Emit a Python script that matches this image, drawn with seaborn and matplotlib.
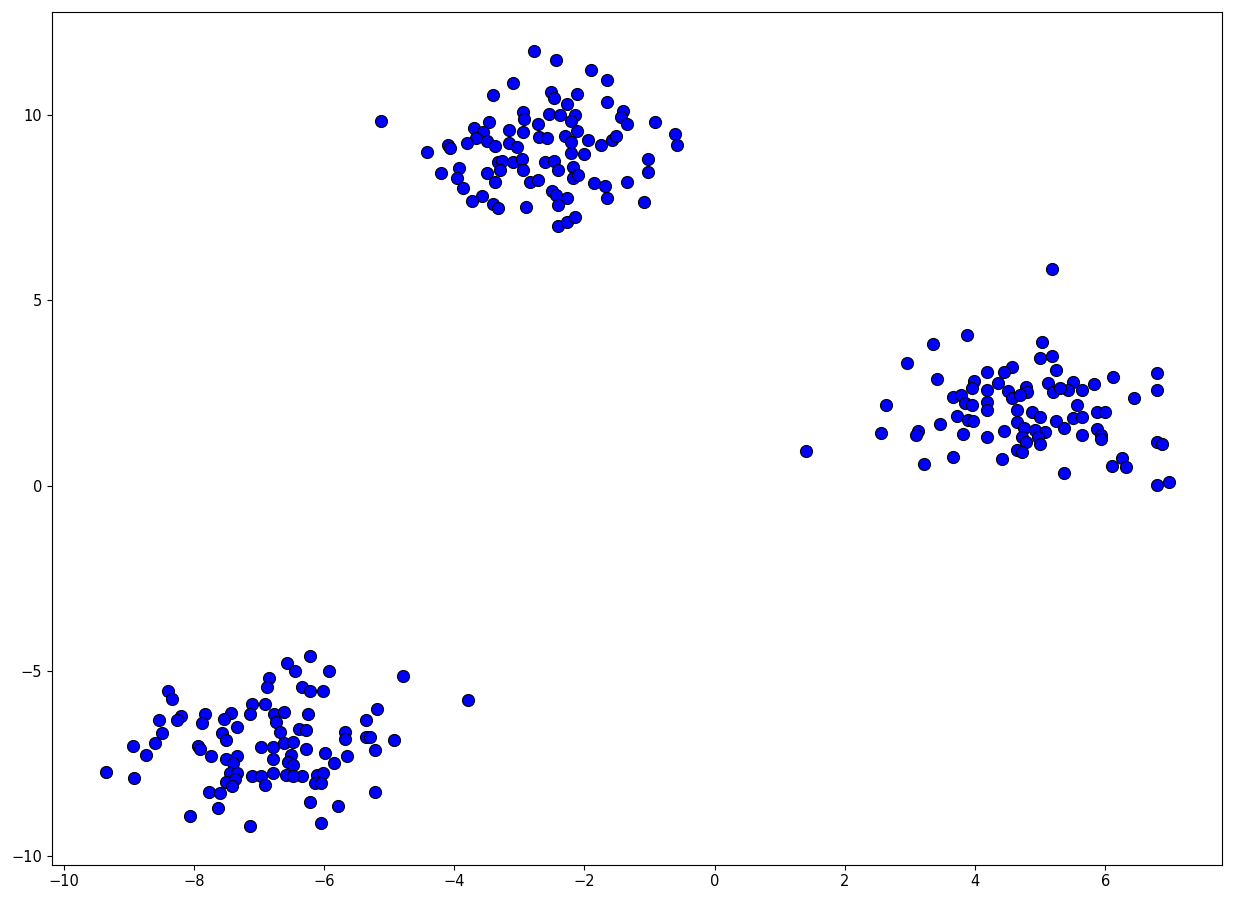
import matplotlib
matplotlib.use("Agg")
import matplotlib.pyplot as plt
import seaborn as sns
import pandas as pd

# upper blob
top_x = [-2.78, -3.09, -3.41, -5.12, -2.95, -2.93, -3.69, -3.47, -3.16, -2.95,
         -3.56, -3.66, -3.50, -3.81, -4.10, -4.06, -3.38, -3.16, -3.03, -4.41,
         -3.33, -3.26, -3.09, -2.96, -3.92, -4.21, -3.49, -3.29, -2.95, -3.96,
         -3.38, -2.84, -3.86, -3.58, -3.73, -3.41, -3.32, -2.89,
         -2.44, -1.90, -1.66, -2.52, -2.46, -2.12, -2.26, -1.66, -1.41, -1.44,
         -1.34, -2.55, -2.38, -2.15, -2.20, -2.72, -0.91, -0.61, -0.58, -2.12,
         -2.70, -2.57, -2.30, -2.20, -1.95, -1.74, -1.58, -1.52, -2.21, -2.01,
         -2.60, -2.47, -2.40, -2.17, -2.18, -2.10, -1.03, -1.03, -2.72, -1.86,
         -1.69, -1.34, -2.50, -2.44, -2.27, -2.41, -1.66, -1.08, -2.40, -2.26,
         -2.14]
top_y = [11.73, 10.86, 10.54, 9.84, 10.08, 9.89, 9.65, 9.81, 9.60, 9.54,
         9.54, 9.38, 9.30, 9.25, 9.19, 9.11, 9.16, 9.25, 9.14, 9.00,
         8.73, 8.76, 8.73, 8.81, 8.57, 8.44, 8.44, 8.52, 8.52, 8.30,
         8.19, 8.19, 8.03, 7.82, 7.68, 7.60, 7.49, 7.52,
         11.48, 11.21, 10.94, 10.62, 10.46, 10.57, 10.30, 10.35, 10.11, 9.95,
         9.76, 10.03, 10.00, 10.00, 9.84, 9.76, 9.81, 9.49, 9.19, 9.57,
         9.41, 9.38, 9.43, 9.27, 9.33, 9.19, 9.33, 9.43, 8.98, 8.95,
         8.73, 8.76, 8.52, 8.60, 8.30, 8.38, 8.81, 8.46, 8.25, 8.17,
         8.09, 8.19, 7.95, 7.84, 7.76, 7.57, 7.76, 7.65, 7.01, 7.12,
         7.25]

# right blob
right_x = [3.87, 3.35, 2.95, 3.41, 4.18, 3.99, 3.95, 3.66, 3.79, 3.84,
           3.95, 4.18, 4.19, 2.63, 3.72, 3.89, 3.96, 4.18, 3.46, 2.55,
           3.13, 3.09, 3.82, 4.18, 1.41, 3.66, 3.21,
           5.18, 5.02, 4.99, 5.18, 5.24, 4.56, 4.45, 4.35, 4.50, 4.56,
           4.78, 4.79, 4.69, 5.12, 5.19, 5.50, 5.42, 5.64, 5.30, 5.82,
           6.11, 6.79, 6.80, 6.44, 5.56, 4.65, 4.88, 4.99, 5.24, 5.51,
           5.64, 5.87, 5.99, 4.64, 4.75, 5.36, 4.45, 4.92, 5.08, 4.96,
           5.64, 5.87, 5.94, 5.93, 4.72, 4.78, 4.99, 4.64, 4.72, 4.42,
           5.36, 6.10, 6.25, 6.31, 6.80, 6.87, 6.80, 6.97]
right_y = [4.07, 3.83, 3.32, 2.88, 3.07, 2.83, 2.64, 2.40, 2.45, 2.24,
           2.18, 2.26, 2.59, 2.18, 1.89, 1.78, 1.75, 2.05, 1.67, 1.43,
           1.48, 1.37, 1.40, 1.32, 0.94, 0.78, 0.59,
           5.85, 3.88, 3.45, 3.50, 3.13, 3.21, 3.07, 2.78, 2.56, 2.37,
           2.67, 2.53, 2.45, 2.78, 2.53, 2.80, 2.59, 2.59, 2.64, 2.75,
           2.94, 3.05, 2.59, 2.37, 2.18, 2.05, 1.99, 1.86, 1.75, 1.83,
           1.86, 1.99, 1.99, 1.73, 1.56, 1.56, 1.48, 1.51, 1.46, 1.32,
           1.37, 1.54, 1.37, 1.27, 1.32, 1.19, 1.13, 0.97, 0.92, 0.73,
           0.35, 0.54, 0.75, 0.51, 1.19, 1.13, 0.03, 0.11]

# lower blob
bottom_x = [-6.57, -6.84, -6.87, -8.39, -8.33, -7.11, -6.91, -6.76, -6.62, -7.14,
            -6.73, -7.43, -7.54, -7.83, -7.88, -8.19, -8.26, -8.53, -7.33, -7.56,
            -7.51, -6.68, -8.48, -8.59, -8.94, -8.74, -7.94, -7.91, -7.73, -6.97,
            -6.79, -6.61, -6.51, -7.50, -7.34, -7.40, -6.79, -6.56, -9.34, -8.91,
            -7.45, -7.33, -7.50, -7.36, -7.42, -7.11, -6.96, -6.91, -6.79, -6.59,
            -7.76, -7.60, -7.62, -8.05, -7.14,
            -6.22, -5.93, -6.45, -4.79, -3.79, -6.33, -6.22, -6.01, -6.25, -5.18,
            -5.35, -6.39, -6.27, -5.68, -5.68, -5.36, -5.30, -4.92, -5.22, -6.48,
            -6.28, -5.99, -5.84, -5.65, -6.48, -6.34, -6.11, -6.02, -6.14, -6.04,
            -6.48, -6.22, -5.79, -5.22, -6.04]
bottom_y = [-4.77, -5.18, -5.42, -5.55, -5.74, -5.90, -5.90, -6.15, -6.09, -6.15,
            -6.36, -6.12, -6.28, -6.17, -6.39, -6.20, -6.33, -6.33, -6.52, -6.66,
            -6.85, -6.63, -6.66, -6.95, -7.01, -7.25, -7.01, -7.09, -7.28, -7.06,
            -7.04, -6.93, -7.25, -7.36, -7.30, -7.47, -7.36, -7.44, -7.71, -7.87,
            -7.74, -7.74, -7.98, -7.92, -8.11, -7.82, -7.82, -8.06, -7.74, -7.79,
            -8.25, -8.30, -8.68, -8.92, -9.19,
            -4.58, -4.99, -5.01, -5.12, -5.77, -5.44, -5.55, -5.55, -6.15, -6.01,
            -6.33, -6.55, -6.58, -6.63, -6.82, -6.79, -6.77, -6.85, -7.14, -6.90,
            -7.09, -7.22, -7.47, -7.28, -7.52, -7.84, -7.79, -7.74, -8.03, -8.03,
            -7.84, -8.54, -8.65, -8.25, -9.11]

df = pd.DataFrame({
    "x": top_x + right_x + bottom_x,
    "y": top_y + right_y + bottom_y,
})

fig = plt.figure(figsize=(12.33, 9.14), dpi=100)
ax = fig.add_axes([0.042, 0.054, 0.949, 0.933])

sns.scatterplot(data=df, x="x", y="y", ax=ax, color="blue",
                edgecolor="black", linewidth=0.8, s=75, legend=False)

ax.set_xlim(-10.18, 7.79)
ax.set_ylim(-10.22, 12.78)
ax.set_xticks([-10, -8, -6, -4, -2, 0, 2, 4, 6])
ax.set_yticks([-10, -5, 0, 5, 10])
ax.set_xlabel("")
ax.set_ylabel("")
ax.tick_params(labelsize=10.5)

fig.savefig("out.png", dpi=100)
